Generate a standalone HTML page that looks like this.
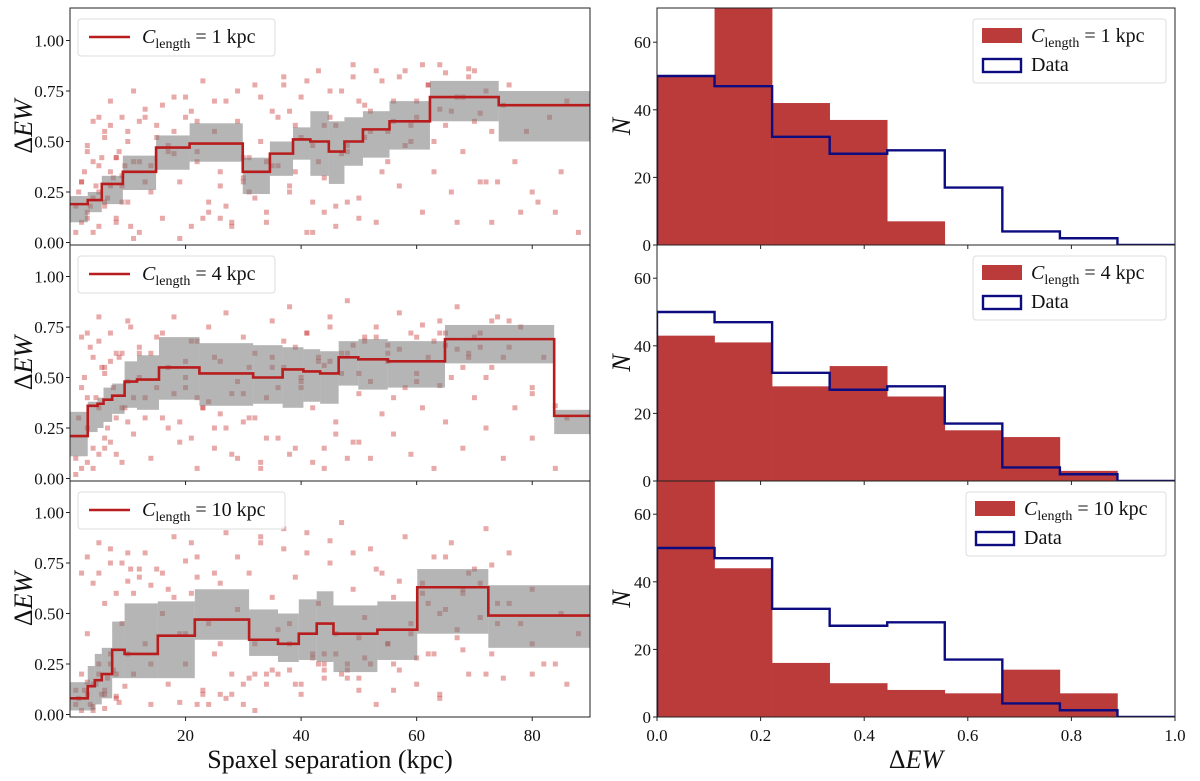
<!DOCTYPE html>
<html><head><meta charset="utf-8"><style>
html,body{margin:0;padding:0;background:#fff}
svg{display:block;font-family:"Liberation Serif",serif}
</style></head><body>
<svg id="chart" width="1200" height="781" viewBox="0 0 1200 781" xmlns="http://www.w3.org/2000/svg"></svg>
<script>
// ---- data ----
const cLengths = ["1", "4", "10"];
const edges1 = [0, 3.07, 5.5, 9.15, 14.9, 20.7, 29.9, 34.6, 38.6, 41.6, 44.8, 47.5, 50.7, 55.3, 62.3, 74.2, 90];
const vals1 = [0.19, 0.21, 0.29, 0.35, 0.47, 0.49, 0.35, 0.44, 0.51, 0.50, 0.45, 0.50, 0.56, 0.60, 0.72, 0.68];
const hi1 = [0.23, 0.25, 0.33, 0.43, 0.53, 0.59, 0.42, 0.50, 0.57, 0.65, 0.60, 0.62, 0.65, 0.70, 0.80, 0.75];
const lo1 = [0.10, 0.15, 0.19, 0.26, 0.36, 0.40, 0.24, 0.33, 0.41, 0.33, 0.29, 0.38, 0.42, 0.46, 0.60, 0.50];
const edges2 = [0, 3.07, 4.77, 5.8, 7.3, 9.45, 11.6, 15.4, 22.4, 31.7, 36.8, 40.4, 43.3, 46.5, 49.9, 55, 64.9, 83.8, 90];
const vals2 = [0.21, 0.36, 0.37, 0.39, 0.41, 0.48, 0.49, 0.55, 0.52, 0.50, 0.54, 0.53, 0.52, 0.60, 0.59, 0.58, 0.69, 0.31];
const hi2 = [0.33, 0.38, 0.40, 0.45, 0.47, 0.58, 0.61, 0.70, 0.67, 0.66, 0.65, 0.64, 0.63, 0.68, 0.69, 0.68, 0.76, 0.34];
const lo2 = [0.11, 0.23, 0.25, 0.28, 0.32, 0.35, 0.34, 0.39, 0.36, 0.37, 0.35, 0.38, 0.37, 0.46, 0.44, 0.45, 0.57, 0.22];
const edges3 = [0, 3.07, 4.29, 5.5, 7.3, 9.45, 15.2, 21.6, 31.0, 36.0, 39.6, 42.7, 45.6, 53.2, 60.1, 72.4, 90];
const vals3 = [0.08, 0.14, 0.17, 0.20, 0.32, 0.30, 0.39, 0.47, 0.37, 0.35, 0.40, 0.45, 0.40, 0.42, 0.63, 0.49];
const hi3 = [0.16, 0.24, 0.30, 0.33, 0.46, 0.55, 0.56, 0.62, 0.52, 0.50, 0.57, 0.61, 0.54, 0.56, 0.72, 0.64];
const lo3 = [0.02, 0.02, 0.05, 0.08, 0.18, 0.18, 0.18, 0.37, 0.29, 0.26, 0.27, 0.26, 0.21, 0.27, 0.40, 0.33];
const scatX1 = [1,2,3,3,4,4,5,5,6,6,7,7,8,8,9,9,10,10,11,12,12,13,14,15,16,17,18,19,20,21,22,23,24,25,26,27,28,29,30,31,32,33,34,35,36,37,38,39,40,41,42,43,44,45,46,47,48,49,50,51,52,53,54,55,56,57,58,59,60,61,62,63,64,65,66,67,68,69,70,71,72,73,75,77,79,81,83,85,88,3,5,7,9,11,13,15,18,22,26,30,34,38,42,46,50,54,58,62,66,70,74,78,
 1.5,2.5,3.5,4.5,5.5,6.5,7.5,8.5,9.5,10.5,2,4,6,8,10,3,5,7,9,11,1,2,4,6,8,12,14,16,18,20,13,17,21,25,29,33,37,41,45,49,53,57,61,65,69,73,36,40,44,48,52,56,60,64,68,72,31,35,39,43,47,51,55,59,63,67,24,28,32,27,23,19,44,46,48,50,42,38,34,30,26,22,80,84,86,76,71,64,58];
const scatY1 = [0.05,0.30,0.12,0.45,0.22,0.60,0.08,0.38,0.55,0.18,0.70,0.28,0.42,0.10,0.62,0.33,0.20,0.50,0.75,0.05,0.40,0.66,0.25,0.58,0.12,0.48,0.72,0.30,0.62,0.08,0.45,0.80,0.20,0.55,0.35,0.70,0.10,0.60,0.42,0.25,0.78,0.50,0.15,0.65,0.38,0.82,0.28,0.58,0.72,0.05,0.48,0.85,0.32,0.62,0.18,0.75,0.45,0.88,0.22,0.68,0.55,0.10,0.80,0.40,0.70,0.28,0.85,0.50,0.62,0.15,0.78,0.35,0.88,0.58,0.25,0.72,0.45,0.82,0.60,0.30,0.75,0.10,0.68,0.40,0.55,0.20,0.62,0.35,0.05,0.15,0.25,0.35,0.20,0.40,0.30,0.52,0.44,0.60,0.12,0.30,0.40,0.65,0.20,0.58,0.70,0.35,0.48,0.78,0.65,0.85,0.30,
 0.15,0.25,0.35,0.18,0.28,0.42,0.22,0.32,0.45,0.38,0.08,0.10,0.05,0.20,0.12,0.55,0.48,0.62,0.58,0.28,0.02,0.18,0.30,0.40,0.52,0.42,0.60,0.38,0.68,0.55,0.72,0.62,0.45,0.65,0.70,0.75,0.72,0.78,0.80,0.75,0.82,0.85,0.82,0.88,0.84,0.86,0.55,0.62,0.52,0.58,0.48,0.65,0.60,0.70,0.66,0.72,0.30,0.42,0.38,0.35,0.40,0.44,0.52,0.55,0.58,0.50,0.10,0.15,0.08,0.22,0.18,0.12,0.02,0.15,0.08,0.20,0.12,0.05,0.25,0.10,0.32,0.28,0.40,0.25,0.15,0.70,0.78,0.64];
const scatX2 = [1,2,2,3,4,4,5,5,6,6,7,8,8,9,10,10,11,12,13,14,15,16,17,18,19,20,21,22,23,24,25,26,27,28,29,30,31,32,33,34,35,36,37,38,39,40,41,42,43,44,45,46,47,48,49,50,51,52,53,54,55,56,57,58,59,60,61,62,63,64,65,66,67,68,69,70,71,72,73,74,75,76,77,78,80,82,84,3,6,9,12,15,20,25,30,35,40,45,50,55,60,65,70,75,80,
 1.5,2.5,3.5,4.5,5.5,6.5,7.5,8.5,9.5,10.5,2,4,6,8,10,3,5,7,9,11,1,3,5,7,12,14,16,18,20,22,13,17,21,25,29,33,37,41,45,49,53,57,61,65,69,73,36,40,44,48,52,56,60,64,68,72,31,35,39,43,47,51,55,59,63,67,24,28,32,27,23,19,44,46,48,50,42,38,34,30,26,22,80,84,86,76,71,64,58];
const scatY2 = [0.10,0.45,0.70,0.25,0.60,0.05,0.35,0.80,0.15,0.52,0.72,0.30,0.62,0.08,0.48,0.78,0.22,0.65,0.40,0.10,0.70,0.30,0.55,0.80,0.18,0.45,0.68,0.05,0.35,0.75,0.25,0.58,0.82,0.12,0.48,0.70,0.30,0.62,0.08,0.40,0.78,0.20,0.55,0.85,0.15,0.45,0.72,0.35,0.60,0.05,0.80,0.28,0.52,0.88,0.18,0.42,0.68,0.10,0.75,0.32,0.58,0.22,0.82,0.45,0.12,0.70,0.35,0.60,0.05,0.78,0.28,0.50,0.85,0.15,0.62,0.40,0.72,0.25,0.55,0.80,0.10,0.65,0.35,0.75,0.20,0.60,0.05,0.40,0.55,0.35,0.62,0.45,0.50,0.60,0.42,0.55,0.48,0.58,0.52,0.62,0.48,0.66,0.70,0.60,0.45,
 0.30,0.50,0.65,0.40,0.55,0.25,0.45,0.60,0.35,0.75,0.05,0.15,0.20,0.12,0.28,0.72,0.68,0.58,0.62,0.40,0.02,0.08,0.12,0.18,0.50,0.62,0.72,0.42,0.58,0.68,0.30,0.25,0.20,0.15,0.10,0.05,0.68,0.72,0.75,0.66,0.70,0.64,0.76,0.72,0.60,0.78,0.45,0.50,0.56,0.62,0.48,0.40,0.52,0.46,0.55,0.50,0.55,0.60,0.65,0.58,0.62,0.70,0.66,0.72,0.68,0.64,0.38,0.42,0.30,0.25,0.35,0.28,0.15,0.22,0.10,0.18,0.08,0.12,0.20,0.28,0.32,0.40,0.42,0.36,0.30,0.78,0.65,0.72];
const scatX3 = [1,2,2,3,3,4,4,5,5,6,6,7,7,8,8,9,10,11,12,13,14,15,16,17,18,19,20,21,22,23,24,25,26,27,28,29,30,31,32,33,34,35,36,37,38,39,40,41,42,43,44,45,46,47,48,49,50,51,52,53,54,55,56,57,58,59,60,61,62,63,64,65,66,67,68,69,70,71,72,73,74,75,76,78,80,82,85,88,4,6,8,10,14,20,26,32,38,44,50,56,62,68,74,80,
 1.5,2.5,3.5,4.5,5.5,6.5,7.5,8.5,9.5,10.5,2,4,6,8,10,3,5,7,9,11,1,3,5,7,12,14,16,18,20,22,13,17,21,25,29,33,37,41,45,49,53,57,61,65,69,73,36,40,44,48,52,56,60,64,68,72,31,35,39,43,47,51,55,59,63,67,24,28,32,27,23,19,44,46,48,50,42,38,34,30,26,22,80,84,86,76,71,64,58];
const scatY3 = [0.05,0.20,0.70,0.10,0.40,0.02,0.65,0.25,0.85,0.12,0.55,0.75,0.30,0.08,0.60,0.45,0.80,0.20,0.68,0.35,0.05,0.72,0.50,0.15,0.88,0.40,0.25,0.60,0.78,0.10,0.45,0.30,0.65,0.90,0.20,0.52,0.05,0.70,0.35,0.85,0.15,0.58,0.42,0.92,0.22,0.68,0.10,0.80,0.30,0.55,0.18,0.75,0.40,0.95,0.25,0.62,0.12,0.48,0.82,0.05,0.70,0.35,0.58,0.22,0.88,0.45,0.15,0.65,0.30,0.78,0.10,0.52,0.85,0.38,0.62,0.20,0.72,0.48,0.92,0.30,0.55,0.18,0.80,0.45,0.62,0.25,0.50,0.40,0.15,0.10,0.20,0.30,0.25,0.40,0.35,0.20,0.45,0.30,0.38,0.25,0.55,0.60,0.45,0.35,
 0.08,0.12,0.05,0.15,0.10,0.18,0.22,0.06,0.14,0.72,0.02,0.04,0.03,0.09,0.66,0.78,0.70,0.82,0.75,0.60,0.12,0.16,0.20,0.25,0.72,0.64,0.70,0.58,0.76,0.68,0.80,0.62,0.85,0.70,0.78,0.88,0.82,0.90,0.86,0.80,0.72,0.66,0.60,0.78,0.70,0.74,0.20,0.15,0.22,0.18,0.25,0.12,0.28,0.08,0.32,0.20,0.18,0.22,0.15,0.25,0.20,0.28,0.35,0.40,0.30,0.42,0.05,0.10,0.02,0.08,0.12,0.06,0.25,0.30,0.22,0.18,0.28,0.35,0.20,0.15,0.10,0.05,0.20,0.25,0.15,0.55,0.65,0.50];
const histVals1 = [50, 72, 42, 37, 7, 0, 0, 0, 0];
const histVals2 = [43, 41, 28, 34, 25, 15, 13, 3, 0];
const histVals3 = [72, 44, 16, 10, 8, 7, 14, 7, 0];
const dataHist = [50, 47, 32, 27, 28, 17, 4, 2, 0];
const leftYTicks = ["0.00", "0.25", "0.50", "0.75", "1.00"];
const xTicksLeft = ["20", "40", "60", "80"];
const rightYTicks = ["0", "20", "40", "60"];
const xTicksRight = ["0.0", "0.2", "0.4", "0.6", "0.8", "1.0"];

const NS = "http://www.w3.org/2000/svg";
const svg = document.getElementById("chart");
function mk(tag, attrs, parent) {
  const e = document.createElementNS(NS, tag);
  for (const k in attrs) e.setAttribute(k, attrs[k]);
  (parent || svg).appendChild(e);
  return e;
}
const tops = [8, 245, 481], bots = [245, 481, 717];
const LX0 = 70, LX1 = 590, RX0 = 657, RX1 = 1175;
const lx = v => LX0 + v * (LX1 - LX0) / 90;
const ly = (i, v) => bots[i] - 2.5 - v * 202;
const rx = v => RX0 + v * (RX1 - RX0);
const ry = (i, v) => bots[i] - v * 3.38;

const panels = [
  [edges1, vals1, hi1, lo1, scatX1, scatY1, histVals1],
  [edges2, vals2, hi2, lo2, scatX2, scatY2, histVals2],
  [edges3, vals3, hi3, lo3, scatX3, scatY3, histVals3]
];

function legendLabel(g, x, y, n) {
  const t = mk("text", {x: x, y: y, "font-size": 20, fill: "#111"}, g);
  
  
  const a = mk("tspan", {"font-style": "italic"}, t); a.textContent = "C";
  const b = mk("tspan", {"font-size": 14, dy: 5}, t); b.textContent = "length";
  const c = mk("tspan", {dy: -5}, t); c.textContent = " = " + n + " kpc";
}

panels.forEach((p, i) => {
  const [edges, vals, hi, lo, sx, sy, hv] = p;
  const g = mk("g", {});
  
  
  const clipId = "clipL" + i;
  const cp = mk("clipPath", {id: clipId}, g);
  mk("rect", {x: LX0, y: tops[i], width: LX1 - LX0, height: bots[i] - tops[i]}, cp);
  const inner = mk("g", {"clip-path": "url(#" + clipId + ")"}, g);
  sx.forEach((xv, k) => {
    const r = mk("rect", {x: lx(xv) - 2.5, y: ly(i, sy[k]) - 2.5, width: 5, height: 5, fill: "rgba(200,50,50,0.42)"}, inner);
    
    
  });
  vals.forEach((v, k) => {
    const r = mk("rect", {x: lx(edges[k]), y: ly(i, hi[k]), width: lx(edges[k + 1]) - lx(edges[k]), height: ly(i, lo[k]) - ly(i, hi[k]), fill: "rgba(120,120,120,0.55)"}, inner);
    
    
  });
  let d = "";
  vals.forEach((v, k) => {
    d += (k === 0 ? "M" : "L") + lx(edges[k]) + "," + ly(i, v) + "L" + lx(edges[k + 1]) + "," + ly(i, v);
  });
  const pl = mk("path", {d: d, fill: "none", stroke: "#b81c1c", "stroke-width": 2.6}, inner);
  
  
  mk("rect", {x: LX0, y: tops[i], width: LX1 - LX0, height: bots[i] - tops[i], fill: "none", stroke: "#222", "stroke-width": 1}, g);
  leftYTicks.forEach(t => {
    const yy = ly(i, parseFloat(t));
    mk("line", {x1: LX0 - 4, x2: LX0, y1: yy, y2: yy, stroke: "#222"}, g);
    const tt = mk("text", {x: LX0 - 6, y: yy + 6, "text-anchor": "end", "font-size": 17, fill: "#111"}, g);
    
    
    tt.textContent = t;
  });
  xTicksLeft.forEach(t => {
    const xx = lx(parseFloat(t));
    mk("line", {x1: xx, x2: xx, y1: bots[i], y2: bots[i] + 4, stroke: "#222"}, g);
    if (i === 2) {
      const tt = mk("text", {x: xx, y: bots[i] + 24, "text-anchor": "middle", "font-size": 17, fill: "#111"}, g);
      
      
      tt.textContent = t;
    }
  });
  const yl = mk("text", {x: 0, y: 0, transform: "translate(32," + ((tops[i] + bots[i]) / 2) + ") rotate(-90)", "text-anchor": "middle", "font-size": 26, fill: "#111"}, g);
  
  
  yl.innerHTML = 'Δ<tspan font-style="italic">EW</tspan>';
  const lg = mk("g", {});
  
  
  mk("rect", {x: 78, y: tops[i] + 11, width: i === 2 ? 207 : 197, height: 37, rx: 3, fill: "rgba(255,255,255,0.85)", stroke: "#ddd"}, lg);
  mk("line", {x1: 89, x2: 130, y1: tops[i] + 29, y2: tops[i] + 29, stroke: "#b81c1c", "stroke-width": 2.6}, lg);
  legendLabel(lg, 142, tops[i] + 35, cLengths[i]);

  const h = mk("g", {});
  
  
  const clipR = "clipR" + i;
  const cr = mk("clipPath", {id: clipR}, h);
  mk("rect", {x: RX0, y: tops[i], width: RX1 - RX0, height: bots[i] - tops[i]}, cr);
  const hin = mk("g", {"clip-path": "url(#" + clipR + ")"}, h);
  const w = 1 / 9;
  hv.forEach((v, k) => {
    if (v <= 0) return;
    const r = mk("rect", {x: rx(k * w), y: ry(i, v), width: rx((k + 1) * w) - rx(k * w) + 0.3, height: ry(i, 0) - ry(i, v), fill: "#bb3a3a"}, hin);
    
    
  });
  let dd = "M" + rx(0) + "," + ry(i, 0);
  dataHist.forEach((v, k) => { dd += "L" + rx(k * w) + "," + ry(i, v) + "L" + rx((k + 1) * w) + "," + ry(i, v); });
  dd += "L" + rx(1) + "," + ry(i, 0);
  const dp = mk("path", {d: dd, fill: "none", stroke: "#0c0c80", "stroke-width": 2.4}, hin);
  
  
  mk("rect", {x: RX0, y: tops[i], width: RX1 - RX0, height: bots[i] - tops[i], fill: "none", stroke: "#222", "stroke-width": 1}, h);
  rightYTicks.forEach(t => {
    const yy = ry(i, parseFloat(t));
    mk("line", {x1: RX0 - 4, x2: RX0, y1: yy, y2: yy, stroke: "#222"}, h);
    const tt = mk("text", {x: RX0 - 6, y: yy + 6, "text-anchor": "end", "font-size": 17, fill: "#111"}, h);
    
    
    tt.textContent = t;
  });
  xTicksRight.forEach(t => {
    const xx = rx(parseFloat(t));
    mk("line", {x1: xx, x2: xx, y1: bots[i], y2: bots[i] + 4, stroke: "#222"}, h);
    if (i === 2) {
      const tt = mk("text", {x: xx, y: bots[i] + 24, "text-anchor": "middle", "font-size": 17, fill: "#111"}, h);
      
      
      tt.textContent = t;
    }
  });
  const nl = mk("text", {x: 0, y: 0, transform: "translate(630," + ((tops[i] + bots[i]) / 2) + ") rotate(-90)", "text-anchor": "middle", "font-size": 26, "font-style": "italic", fill: "#111"}, h);
  
  
  nl.textContent = "N";
  const rl = mk("g", {});
  
  
  const lxp = i === 2 ? 966 : 973;
  mk("rect", {x: lxp, y: tops[i] + 11, width: 1166 - lxp, height: 64, rx: 3, fill: "rgba(255,255,255,0.85)", stroke: "#ddd"}, rl);
  mk("rect", {x: lxp + 9, y: tops[i] + 20, width: 40, height: 15, fill: "#bb3a3a"}, rl);
  legendLabel(rl, lxp + 58, tops[i] + 34, cLengths[i]);
  mk("rect", {x: lxp + 10, y: tops[i] + 51, width: 38, height: 13, fill: "none", stroke: "#0c0c80", "stroke-width": 2.4}, rl);
  const dt = mk("text", {x: lxp + 58, y: tops[i] + 63, "font-size": 20, fill: "#111"}, rl);
  
  
  dt.textContent = "Data";
});
const xl = mk("text", {x: 330, y: 768, "text-anchor": "middle", "font-size": 26, fill: "#111"});


xl.textContent = "Spaxel separation (kpc)";
const xr = mk("text", {x: 916, y: 768, "text-anchor": "middle", "font-size": 26, fill: "#111"});


xr.innerHTML = 'Δ<tspan font-style="italic">EW</tspan>';
</script>
</body></html>
